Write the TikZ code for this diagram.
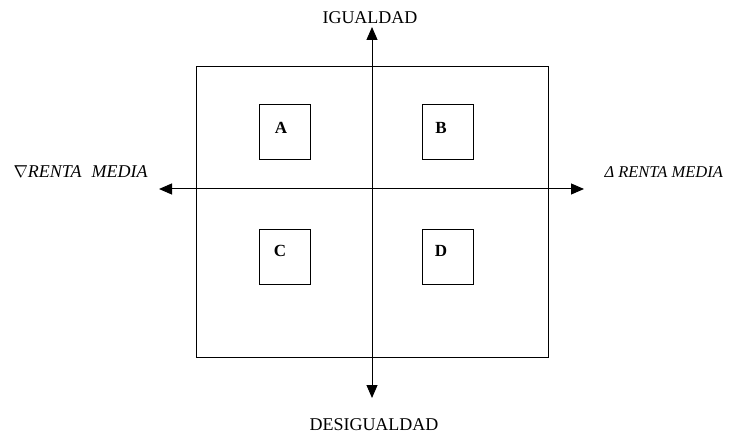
\documentclass[tikz,border=0pt]{standalone}
\usepackage{fontspec}
\setmainfont{Liberation Serif}
\usetikzlibrary{arrows.meta}
\begin{document}
\begin{tikzpicture}[x=1pt,y=-1pt,
  line width=1pt,
  ax/.style={{Triangle[length=13pt,width=11pt]}-{Triangle[length=13pt,width=11pt]}},
  qbox/.style={draw,minimum width=51pt,minimum height=55pt,inner sep=0pt},
  qlab/.style={font=\fontsize{17}{19}\selectfont\bfseries,inner sep=0pt},
  axlab/.style={font=\fontsize{18}{20}\selectfont,inner sep=0pt},
  sidelab/.style={font=\fontsize{16.5}{19}\selectfont\itshape,inner sep=0pt}]
\useasboundingbox (0,0) rectangle (733,435);
\node[draw,minimum width=352pt,minimum height=290pt,inner sep=0pt] (frame) at (372,212) {};
\coordinate (top) at (372,27);
\coordinate (bot) at (372,398);
\coordinate (lft) at (159,189);
\coordinate (rgt) at (584,189);
\draw[ax] (bot) -- (top);
\draw[ax] (lft) -- (rgt);
\node[qbox] (bA) at (284.5,132.5) {};
\node[qbox] (bB) at (447.5,132.5) {};
\node[qbox] (bC) at (284.5,257) {};
\node[qbox] (bD) at (447.5,257) {};
\node[qlab] (A) at (281,128) {A};
\node[qlab] (B) at (441,128) {B};
\node[qlab] (C) at (280,251) {C};
\node[qlab] (D) at (441,251) {D};
\node[axlab] (ig) at (370,18) {IGUALDAD};
\node[axlab] (des) at (374,425) {DESIGUALDAD};
\node[sidelab,anchor=west,font=\fontsize{18}{20}\selectfont\itshape] (left) at (13,172) {{\fontsize{19}{19}\selectfont$\nabla$}RENTA\hspace{10pt}MEDIA};
\node[sidelab,anchor=west] (right) at (604,172) {Δ RENTA MEDIA};
\end{tikzpicture}
\end{document}
